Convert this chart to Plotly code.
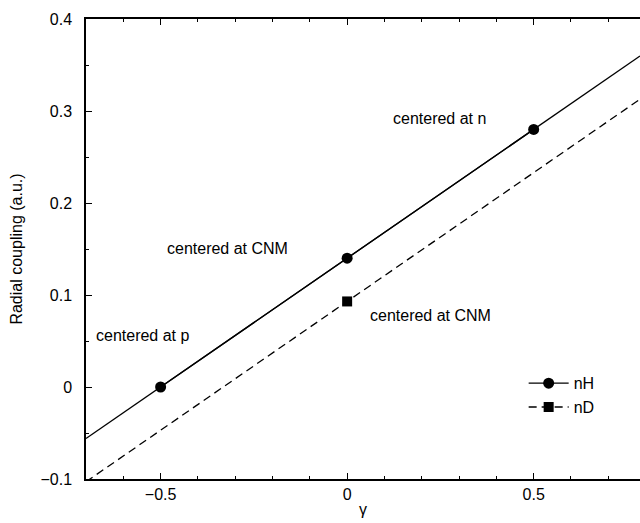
import numpy as np
import plotly.graph_objects as go

# Data
nH_gamma = [-0.5, 0.0, 0.5]
nH_coupling = [0.0, 0.14, 0.28]
nD_gamma = [0.0]
nD_coupling = [0.093]
nD_slope = 0.28  # parallel fit line through the nD point

x_range = [-0.7, 0.785]
y_range = [-0.1, 0.4]

# fitted lines evaluated across the axis range
p = np.polyfit(nH_gamma, nH_coupling, 1)
line_x = np.array(x_range)
nH_line = np.polyval(p, line_x)
nD_line = nD_coupling[0] + nD_slope * (line_x - nD_gamma[0])

label_texts = ["centered at n", "centered at CNM", "centered at CNM", "centered at p"]
label_x = [0.247, -0.32, 0.223, -0.547]
label_y = [0.292, 0.151, 0.078, 0.0565]

FONT = "Liberation Sans, Arial, Helvetica, sans-serif"
FS = 16

fig = go.Figure()
fig.add_trace(go.Scatter(x=line_x, y=nH_line, mode="lines",
                         line=dict(color="black", width=1.3), showlegend=False, hoverinfo="skip"))
fig.add_trace(go.Scatter(x=line_x, y=nD_line, mode="lines",
                         line=dict(color="black", width=1.3, dash="8px,5px"), showlegend=False, hoverinfo="skip"))
fig.add_trace(go.Scatter(x=nH_gamma, y=nH_coupling, mode="lines+markers", name="nH",
                         line=dict(color="black", width=1.3),
                         marker=dict(symbol="circle", size=11, color="black")))
fig.add_trace(go.Scatter(x=nD_gamma, y=nD_coupling, mode="lines+markers", name="nD",
                         line=dict(color="black", width=1.3, dash="8px,5px"),
                         marker=dict(symbol="square", size=10, color="black")))

for txt, x, y in zip(label_texts, label_x, label_y):
    fig.add_annotation(x=x, y=y, text=txt, showarrow=False,
                       font=dict(family=FONT, size=FS, color="black"))

fig.update_layout(
    width=640, height=523,
    margin=dict(l=86, r=0, t=19, b=44),
    paper_bgcolor="white", plot_bgcolor="white",
    font=dict(family=FONT, size=FS, color="black"),
    legend=dict(x=0.79, y=0.245, xanchor="left", yanchor="top",
                bgcolor="rgba(0,0,0,0)", font=dict(size=FS), tracegroupgap=0,
                itemwidth=40),
)
fig.update_xaxes(
    range=x_range, showgrid=False, zeroline=False, automargin=False,
    showline=True, linecolor="black", linewidth=1.5, mirror="ticks",
    ticks="inside", ticklen=6, tickcolor="black", dtick=0.5, tick0=0,
    minor=dict(dtick=0.1, ticks="inside", ticklen=3, tickcolor="black"),
    title=dict(text="γ", font=dict(size=FS), standoff=2),
)
fig.update_yaxes(
    range=y_range, showgrid=False, zeroline=False, automargin=False,
    showline=True, linecolor="black", linewidth=1.5,
    ticks="inside", ticklen=6, tickcolor="black", dtick=0.1, tick0=0,
    ticklabelstandoff=9,
    minor=dict(dtick=0.05, ticks="inside", ticklen=3, tickcolor="black"),
    title=dict(text="Radial coupling (a.u.)", font=dict(size=FS), standoff=14),
)

fig.write_html("out.html", config={"displayModeBar": False},
               post_script="document.body.style.margin='0';")
